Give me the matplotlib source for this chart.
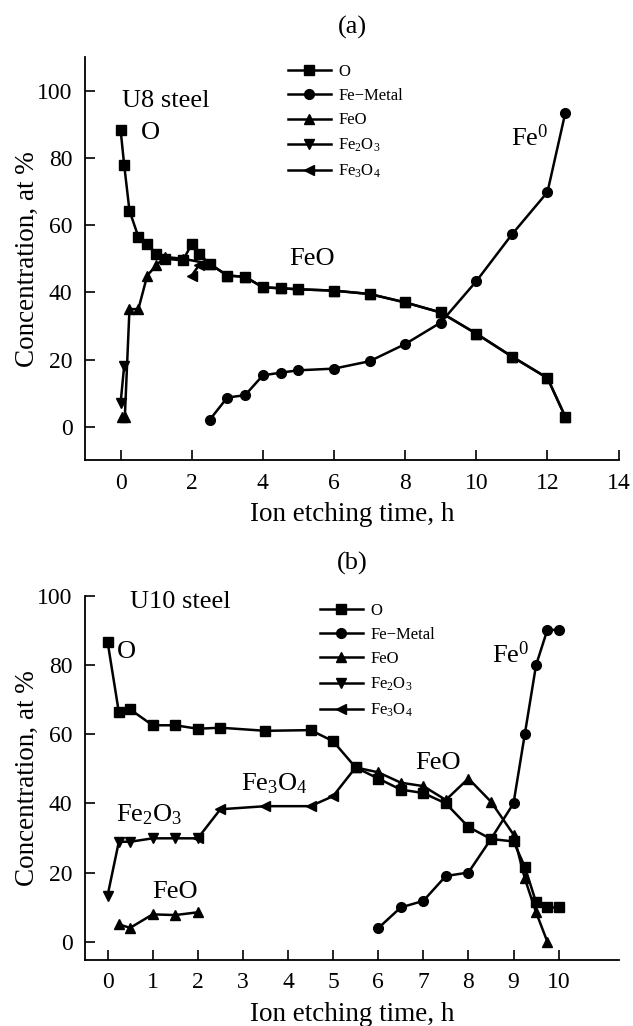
import matplotlib
matplotlib.use('Agg')
import matplotlib.pyplot as plt

plt.rcParams['font.family'] = ['Liberation Serif', 'DejaVu Serif']
plt.rcParams['mathtext.fontset'] = 'custom'
plt.rcParams['mathtext.rm'] = 'Liberation Serif'
plt.rcParams['mathtext.it'] = 'Liberation Serif:italic'

# (a) U8 steel
a_o_t = [0, 0.1, 0.25, 0.5, 0.75, 1.0, 1.25, 1.75, 2.0, 2.2, 2.5, 3, 3.5, 4, 4.5, 5, 6, 7, 8, 9, 10, 11, 12, 12.5]
a_o = [88.4, 78, 64.3, 56.5, 54.3, 51.5, 50, 49.5, 54.3, 51.5, 48.5, 45, 44.6, 41.5, 41.2, 40.9, 40.5, 39.5, 37, 34, 27.7, 20.9, 14.5, 3]
a_fe_t = [2.5, 3, 3.5, 4, 4.5, 5, 6, 7, 8, 9, 10, 11, 12, 12.5]
a_fe = [2, 8.7, 9.4, 15.3, 16.1, 16.8, 17.3, 19.5, 24.6, 31, 43.3, 57.2, 69.8, 93.3]
a_feo_t = [0.05, 0.12, 0.25, 0.5, 0.75, 1.0, 1.25, 1.75, 2.5, 3, 3.5, 4, 4.5, 5, 6, 7, 8, 9, 10, 11, 12, 12.5]
a_feo = [3, 3, 35, 35, 45, 48, 50.5, 50, 48.5, 45, 44.6, 41.5, 41.2, 40.9, 40.5, 39.5, 37, 34, 27.7, 20.9, 14.5, 3]
a_fe2o3_t = [0.0, 0.1]
a_fe2o3 = [7, 18]
a_fe3o4_t = [2.0, 2.2]
a_fe3o4 = [45, 48]

# (b) U10 steel
b_o_t = [0, 0.25, 0.5, 1, 1.5, 2, 2.5, 3.5, 4.5, 5, 5.5, 6, 6.5, 7, 7.5, 8, 8.5, 9, 9.25, 9.5, 9.75, 10]
b_o = [86.8, 66.4, 67.2, 62.6, 62.6, 61.6, 61.9, 61, 61.2, 58, 50.4, 47.2, 44, 43, 40, 33.2, 29.7, 29, 21.7, 11.4, 9.9, 9.9]
b_fe_t = [6, 6.5, 7, 7.5, 8, 8.5, 9, 9.25, 9.5, 9.75, 10]
b_fe = [3.9, 9.9, 11.8, 19, 20, 29.7, 40, 60, 80, 90.2, 90.2]
b_feo_low_t = [0.25, 0.5, 1, 1.5, 2]
b_feo_low = [5, 4, 7.9, 7.7, 8.5]
b_feo_t = [5.5, 6, 6.5, 7, 7.5, 8, 8.5, 9, 9.25, 9.5, 9.75]
b_feo = [50.4, 49, 46, 45, 41, 47.2, 40.5, 31, 18.3, 8.5, 0]
b_fe2o3_t = [0, 0.25, 0.5, 1, 1.5, 2]
b_fe2o3 = [13.3, 28.9, 28.9, 29.9, 29.9, 29.9]
b_fe3o4_t = [2, 2.5, 3.5, 4.5, 5, 5.5]
b_fe3o4 = [29.9, 38.3, 39.2, 39.2, 42.1, 50.4]

labels = ['O', 'Fe\u2212Metal', 'FeO', 'Fe$_2$O$_3$', 'Fe$_3$O$_4$']

W, H = 633, 1026
fig = plt.figure(figsize=(W / 100, H / 100), dpi=100)
ax_a = fig.add_axes([85 / W, 1 - 460.4 / H, 533.6 / W, 403.4 / H])
ax_b = fig.add_axes([85 / W, 1 - 960 / H, 533.6 / W, 364 / H])

style = dict(color='black', lw=1.8, ms=7)


def setup(ax, xlim, ylim, xticks):
    ax.set_xlim(*xlim)
    ax.set_ylim(*ylim)
    ax.set_xticks(xticks)
    ax.set_yticks(range(0, 101, 20))
    for s in ('top', 'right'):
        ax.spines[s].set_visible(False)
    for s in ('left', 'bottom'):
        ax.spines[s].set_linewidth(1.3)
    ax.tick_params(direction='in', length=7, width=1.2, labelsize=17, pad=9)
    ax.set_xlabel('Ion etching time, h', fontsize=19.5, labelpad=6)
    ax.set_ylabel('Concentration, at %', fontsize=19.5, labelpad=-2)


def add_legend(ax, x_px):
    ax.legend(loc='upper left', bbox_to_anchor=((x_px - 85) / 533.6, 1.0),
              frameon=False, fontsize=12, handlelength=2.6, handletextpad=0.45,
              labelspacing=0.5, borderaxespad=0.0)


# panel (a)
ax = ax_a
ax.plot(a_o_t, a_o, marker='s', label=labels[0], **style)
ax.plot(a_fe_t, a_fe, marker='o', label=labels[1], **style)
ax.plot(a_feo_t, a_feo, marker='^', label=labels[2], **style)
ax.plot(a_fe2o3_t, a_fe2o3, marker='v', label=labels[3], **style)
ax.plot(a_fe3o4_t, a_fe3o4, marker='<', label=labels[4], **style)
setup(ax, (-1, 14), (-10, 110), range(0, 15, 2))
add_legend(ax, 281)
ax.text(0.03, 96.8, 'U8 steel', fontsize=19, va='center', ha='left')
ax.text(0.84, 87.4, 'O', fontsize=19, va='center', ha='center')
ax.text(5.38, 49.9, 'FeO', fontsize=19, va='center', ha='center')
ax.text(11.5, 85.9, 'Fe$^0$', fontsize=19, va='center', ha='center')

# panel (b)
ax = ax_b
ax.plot(b_o_t, b_o, marker='s', label=labels[0], **style)
ax.plot(b_fe_t, b_fe, marker='o', label=labels[1], **style)
ax.plot(b_feo_t, b_feo, marker='^', label=labels[2], **style)
ax.plot(b_feo_low_t, b_feo_low, marker='^', **style)
ax.plot(b_fe2o3_t, b_fe2o3, marker='v', label=labels[3], **style)
ax.plot(b_fe3o4_t, b_fe3o4, marker='<', label=labels[4], **style)
setup(ax, (-0.5, 11.33), (-5.3, 100), range(0, 11))
add_legend(ax, 313)
ax.text(0.5, 98.3, 'U10 steel', fontsize=19, va='center', ha='left')
ax.text(0.42, 83.9, 'O', fontsize=19, va='center', ha='center')
ax.text(8.94, 82.9, 'Fe$^0$', fontsize=19, va='center', ha='center')
ax.text(7.32, 51.6, 'FeO', fontsize=19, va='center', ha='center')
ax.text(3.69, 45.8, 'Fe$_3$O$_4$', fontsize=19, va='center', ha='center')
ax.text(0.93, 36.6, 'Fe$_2$O$_3$', fontsize=19, va='center', ha='center')
ax.text(1.49, 14.5, 'FeO', fontsize=19, va='center', ha='center')

fig.text(352 / W, 1 - 27 / H, '(a)', fontsize=19, ha='center', va='center')
fig.text(352 / W, 1 - 563 / H, '(b)', fontsize=19, ha='center', va='center')

fig.savefig('out.png', dpi=100)
